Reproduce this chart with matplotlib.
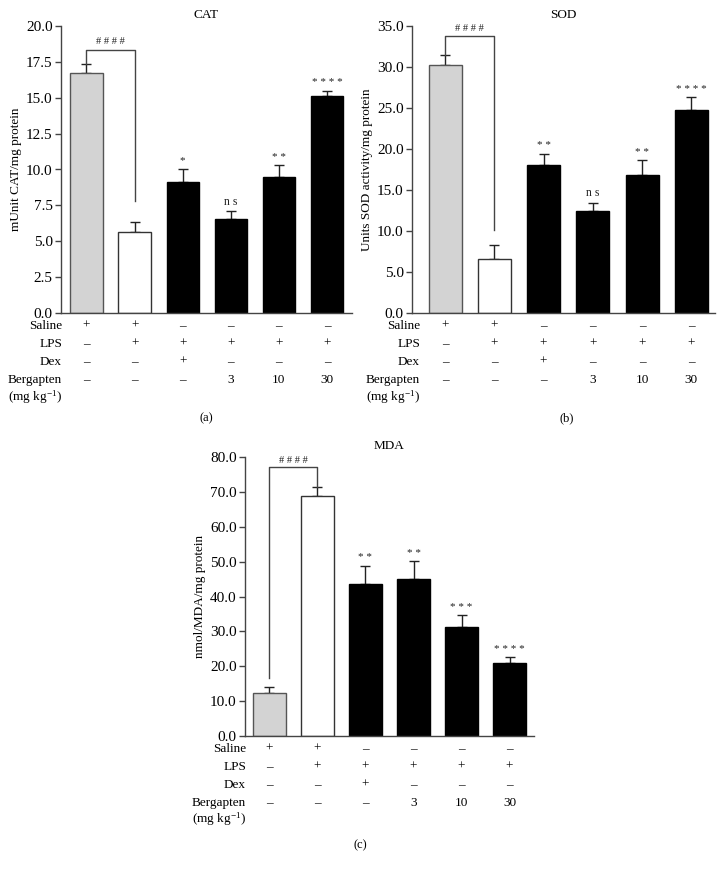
import matplotlib
matplotlib.use("Agg")
import matplotlib.pyplot as plt
import matplotlib.transforms as mtransforms
import numpy as np

plt.rcParams['font.family'] = ['Liberation Serif', 'DejaVu Serif']
plt.rcParams['mathtext.default'] = 'regular'

# ---------------- data ----------------
groups = ["Saline", "LPS", "Dex", "Berg3", "Berg10", "Berg30"]
bar_fill = ["#d3d3d3", "#ffffff", "#000000", "#000000", "#000000", "#000000"]

cat_mean = [16.75, 5.65, 9.15, 6.55, 9.45, 15.15]
cat_err = [0.58, 0.67, 0.9, 0.55, 0.85, 0.35]
cat_sig = ["", "", "*", "n s", "* *", "* * * *"]

sod_mean = [30.2, 6.6, 18.1, 12.4, 16.8, 24.8]
sod_err = [1.25, 1.65, 1.3, 1.05, 1.8, 1.5]
sod_sig = ["", "", "* *", "n s", "* *", "* * * *"]

mda_mean = [12.35, 68.9, 43.45, 44.9, 31.2, 20.8]
mda_err = [1.6, 2.5, 5.35, 5.25, 3.45, 1.8]
mda_sig = ["", "", "* *", "* *", "* * *", "* * * *"]

row_labels = ["Saline", "LPS", "Dex", "Bergapten"]
row_saline = ["+", "+", "\u2013", "\u2013", "\u2013", "\u2013"]
row_lps = ["\u2013", "+", "+", "+", "+", "+"]
row_dex = ["\u2013", "\u2013", "+", "\u2013", "\u2013", "\u2013"]
row_berg = ["\u2013", "\u2013", "\u2013", "3", "10", "30"]
rows = [row_saline, row_lps, row_dex, row_berg]

W, H = 724, 871
fig = plt.figure(figsize=(W / 100, H / 100), dpi=100)


def px_axes(l, t, r, b):
    return fig.add_axes([l / W, 1 - b / H, (r - l) / W, (b - t) / H])


def panel(ax, mean, err, sig, title, ylabel, ymax, ystep, xlim,
          bracket, hash_y, right_leg, left_leg, row_py, label_right_px, sub, sub_xy):
    x = np.arange(len(mean))
    edge = ["#555555", "#333333", "#000000", "#000000", "#000000", "#000000"]
    ax.bar(x, mean, width=0.67, color=bar_fill, edgecolor=edge, linewidth=1.0, zorder=2)
    ax.errorbar(x, mean, yerr=[np.zeros(len(err)), err], fmt="none",
                ecolor="#222222", elinewidth=1.0, capsize=3.5, capthick=1.0, zorder=1)
    ax.set_xlim(*xlim)
    ax.set_ylim(0, ymax)
    ticks = np.arange(0, ymax + 1e-9, ystep)
    ax.set_yticks(ticks)
    ax.set_yticklabels([f"{t:.1f}" for t in ticks], fontsize=11)
    ax.set_xticks([])
    for s in ["top", "right"]:
        ax.spines[s].set_visible(False)
    for s in ["left", "bottom"]:
        ax.spines[s].set_color("#444444")
        ax.spines[s].set_linewidth(1.0)
    ax.tick_params(axis="y", length=4, width=1.0, color="#444444", pad=2)
    ax.set_title(title, fontsize=9.5, pad=6)
    ax.set_ylabel(ylabel, fontsize=9.5, labelpad=3)
    for xi, (m, e, s) in enumerate(zip(mean, err, sig)):
        if s:
            ax.text(xi, m + e + ymax * 0.012, s, ha="center", va="bottom",
                    fontsize=8.5 if s == "n s" else 8, color="#222222")
    # bracket
    ax.plot([0, 0, 1, 1], [left_leg, bracket, bracket, right_leg],
            color="#444444", lw=1.0, zorder=3, clip_on=False)
    ax.text(0.5, hash_y, "# # # #", ha="center", va="center", fontsize=7.5, color="#222222")
    # rows below
    tr = mtransforms.blended_transform_factory(ax.transData, fig.transFigure)
    for r, (lab, vals) in enumerate(zip(row_labels, rows)):
        yf = 1 - row_py[r] / H
        fig.text(label_right_px / W, yf, lab, ha="right", va="center", fontsize=9.5)
        for xi, v in enumerate(vals):
            ax.text(xi, yf, v, transform=tr, ha="center", va="center", fontsize=9.5)
    fig.text(label_right_px / W, 1 - row_py[4] / H, "(mg kg$^{-1}$)",
             ha="right", va="center", fontsize=9.5)
    fig.text(sub_xy[0] / W, 1 - sub_xy[1] / H, sub, ha="center", va="center", fontsize=9)


ax_a = px_axes(61, 26, 352, 313)
panel(ax_a, cat_mean, cat_err, cat_sig, "CAT", "mUnit CAT/mg protein", 20.0, 2.5,
      (-0.53, 5.52), 18.36, 18.95, 7.8, 17.33,
      [326, 344, 362, 380, 397], 62, "(a)", (206, 418))

ax_b = px_axes(412, 26, 715, 313)
panel(ax_b, sod_mean, sod_err, sod_sig, "SOD", "Units SOD activity/mg protein", 35.0, 5.0,
      (-0.67, 5.48), 33.78, 34.7, 10.07, 31.45,
      [326, 344, 362, 380, 397], 420, "(b)", (567, 418))

ax_c = px_axes(245, 457, 534, 736)
panel(ax_c, mda_mean, mda_err, mda_sig, "MDA", "nmol/MDA/mg protein", 80.0, 10.0,
      (-0.51, 5.51), 77.03, 79.0, 71.4, 16.5,
      [749, 767, 785, 803, 819], 246, "(c)", (360, 845))

fig.savefig("out.png", dpi=100)
